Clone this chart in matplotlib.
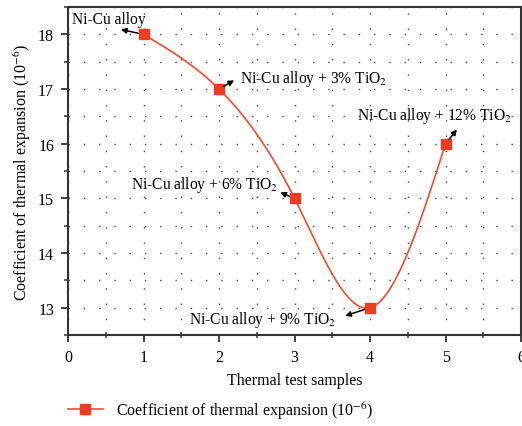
#!/usr/bin/env python3
# plot.py
# Coefficient of thermal expansion for the Ni-Cu alloy samples

import numpy as np
import matplotlib
matplotlib.use('Agg')
import matplotlib.pyplot as plt
from matplotlib.ticker import MultipleLocator

#############
# Data
#############

samples = [1, 2, 3, 4, 5]
cte = [18, 17, 15, 13, 16]
labels = ['Ni-Cu alloy',
          'Ni-Cu alloy + 3% TiO$_2$',
          'Ni-Cu alloy + 6% TiO$_2$',
          'Ni-Cu alloy + 9% TiO$_2$',
          'Ni-Cu alloy + 12% TiO$_2$']


def natural_spline(x, y, n=300):
    # natural cubic spline through the data points, only for the smooth line
    x = np.asarray(x, float)
    y = np.asarray(y, float)
    k = len(x)
    h = np.diff(x)
    A = np.zeros((k, k))
    b = np.zeros(k)
    A[0, 0] = A[-1, -1] = 1
    for i in range(1, k - 1):
        A[i, i - 1] = h[i - 1]
        A[i, i] = 2 * (h[i - 1] + h[i])
        A[i, i + 1] = h[i]
        b[i] = 6 * ((y[i + 1] - y[i]) / h[i] - (y[i] - y[i - 1]) / h[i - 1])
    m = np.linalg.solve(A, b)
    xs = np.linspace(x[0], x[-1], n)
    idx = np.clip(np.searchsorted(x, xs) - 1, 0, k - 2)
    x0, x1 = x[idx], x[idx + 1]
    hh = x1 - x0
    t0, t1 = x1 - xs, xs - x0
    ys = (m[idx] * t0**3 / (6 * hh) + m[idx + 1] * t1**3 / (6 * hh)
          + (y[idx] / hh - m[idx] * hh / 6) * t0
          + (y[idx + 1] / hh - m[idx + 1] * hh / 6) * t1)
    return xs, ys


##############
# Create Graph
##############

plt.rcParams['font.family'] = ['Liberation Serif', 'DejaVu Serif']
plt.rcParams['mathtext.fontset'] = 'stix'

red = '#f03c22'
line_red = '#f04a2e'

fig = plt.figure(figsize=(5.22, 4.27), dpi=100)
ax = fig.add_axes([0.1303, 0.2131, 0.868, 0.768])

xs, ys = natural_spline(samples, cte)
ax.plot(xs, ys, color=line_red, lw=1.2, zorder=3)
ax.plot(samples, cte, 's', color=red, ms=7.5, zorder=4)

ax.set_xlim(0, 6)
ax.set_ylim(12.5, 18.5)
ax.xaxis.set_major_locator(MultipleLocator(1))
ax.xaxis.set_minor_locator(MultipleLocator(0.5))
ax.yaxis.set_major_locator(MultipleLocator(1))
ax.yaxis.set_minor_locator(MultipleLocator(0.5))
ax.grid(which='both', color='#444444', linestyle=(0, (1, 10)), lw=1.0)
ax.tick_params(which='major', direction='out', length=5, width=1.3,
               labelsize=11.5, color='#333333', pad=5)
ax.tick_params(axis='x', which='minor', direction='inout', length=5,
               width=1.1, color='#333333')
ax.tick_params(axis='y', which='minor', direction='out', length=3,
               width=1.1, color='#333333')
for s in ax.spines.values():
    s.set_color('#333333')
    s.set_linewidth(1.5)

ax.set_xlabel('Thermal test samples', fontsize=11.5, labelpad=5)
ax.set_ylabel('Coefficient of thermal expansion (10$^{-6}$)', fontsize=11.5,
              labelpad=4)

# text positions and arrow heads (data coords)
text_pos = [(0.05, 18.29, 'left'), (2.28, 17.21, 'left'),
            (2.78, 15.27, 'right'), (3.55, 12.80, 'right'),
            (3.83, 16.52, 'left')]
arrow_to = [(0.70, 18.09), (2.20, 17.16), (2.81, 15.11),
            (3.67, 12.85), (5.15, 16.26)]
for (x, y), lab, (tx, ty, ha), (axx, ayy) in zip(zip(samples, cte), labels,
                                               text_pos, arrow_to):
    ax.text(tx, ty, lab, ha=ha, va='center', fontsize=11.2, zorder=5)
    ax.annotate('', xy=(axx, ayy), xytext=(x, y),
                arrowprops=dict(arrowstyle='-|>', color='black', lw=1.1,
                                mutation_scale=8, shrinkA=4, shrinkB=0),
                zorder=5)

# legend below the axes
fig.legend([plt.Line2D([], [], color=line_red, lw=1.2, marker='s',
                       mfc=red, mec=red, ms=7.5)],
           ['Coefficient of thermal expansion (10$^{-6}$)'],
           loc='center left', bbox_to_anchor=(0.130, 0.037), frameon=False,
           fontsize=11.5, handlelength=2.2, handletextpad=0.8,
           borderpad=0, borderaxespad=0)

fig.savefig('out.png', dpi=100)
